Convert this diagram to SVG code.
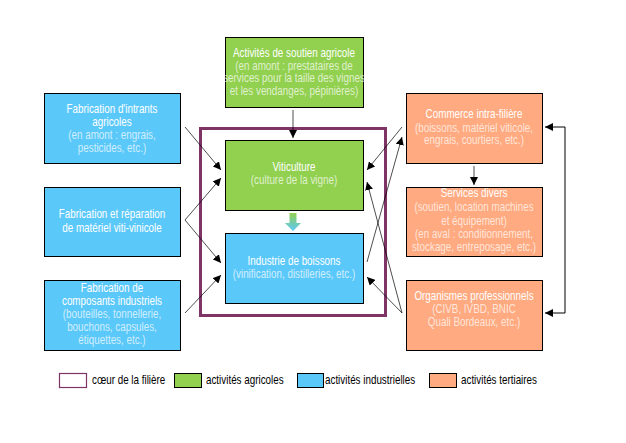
<svg xmlns="http://www.w3.org/2000/svg" width="626" height="443" viewBox="0 0 626 443">
<defs>
<marker id="ah" viewBox="0 0 10 10" refX="10" refY="5" markerWidth="8" markerHeight="8" markerUnits="userSpaceOnUse" orient="auto-start-reverse">
<path d="M0,0 L10,5 L0,10 Z" fill="#000"/>
</marker>
<linearGradient id="gr" x1="0" y1="0" x2="0" y2="1">
<stop offset="0" stop-color="#92d050"/>
<stop offset="1" stop-color="#5bc8fa"/>
</linearGradient>
</defs>
<style>
.b{stroke:#000;stroke-width:1}
.g{fill:#92d050}
.bl{fill:#5bc8fa}
.o{fill:#ffaa80}
text{font-family:"Liberation Sans",Arial,sans-serif;font-size:12px;text-anchor:middle;fill:#fff}
.s{fill-opacity:0.72}
.lg{text-anchor:start;fill:#000}
.c{fill:none;stroke:#000;stroke-width:0.7;marker-end:url(#ah)}
</style>
<rect width="626" height="443" fill="#fff"/>

<g id="frame">
<rect x="200.5" y="128.5" width="185" height="187" fill="none" stroke="#7f3466" stroke-width="3"/>
</g>

<g id="n-intrants">
<rect class="b bl" x="44.5" y="93.5" width="136" height="70"/>
<g transform="matrix(0.82 0 0 1 20.16 0)">
<text x="112" y="113">Fabrication d'intrants</text>
<text x="112" y="126">agricoles</text>
<text class="s" x="112" y="139">(en amont : engrais,</text>
<text class="s" x="112" y="152">pesticides, etc.)</text>
</g>
</g>

<g id="n-materiel">
<rect class="b bl" x="44.5" y="187.5" width="136" height="69"/>
<g transform="matrix(0.82 0 0 1 20.16 0)">
<text x="112" y="218">Fabrication et réparation</text>
<text x="112" y="232">de matériel viti-vinicole</text>
</g>
</g>

<g id="n-composants">
<rect class="b bl" x="44.5" y="280.5" width="136" height="70"/>
<g transform="matrix(0.82 0 0 1 20.16 0)">
<text x="112" y="292">Fabrication de</text>
<text x="112" y="305">composants industriels</text>
<text class="s" x="112" y="318">(bouteilles, tonnellerie,</text>
<text class="s" x="112" y="331">bouchons, capsules,</text>
<text class="s" x="112" y="344">étiquettes, etc.)</text>
</g>
</g>

<g id="n-soutien">
<rect class="b g" x="225.5" y="37.5" width="138" height="70"/>
<g transform="matrix(0.82 0 0 1 52.92 0)">
<text x="294" y="57">Activités de soutien agricole</text>
<text class="s" x="294" y="70">(en amont : prestataires de</text>
<text class="s" x="294" y="82">services pour la taille des vignes</text>
<text class="s" x="294" y="95">et les vendanges, pépinières)</text>
</g>
</g>

<g id="n-viticulture">
<rect class="b g" x="225.5" y="140.5" width="138" height="70"/>
<g transform="matrix(0.82 0 0 1 52.92 0)">
<text x="294" y="171">Viticulture</text>
<text class="s" x="294" y="184">(culture de la vigne)</text>
</g>
</g>

<g id="n-industrie">
<rect class="b bl" x="225.5" y="233.5" width="138" height="70"/>
<g transform="matrix(0.82 0 0 1 52.92 0)">
<text x="294" y="265">Industrie de boissons</text>
<text class="s" x="294" y="278">(vinification, distilleries, etc.)</text>
</g>
</g>

<g id="n-commerce">
<rect class="b o" x="406.5" y="93.5" width="136" height="70"/>
<g transform="matrix(0.82 0 0 1 85.32 0)">
<text x="474" y="118">Commerce intra-filière</text>
<text class="s" x="474" y="132">(boissons, matériel viticole,</text>
<text class="s" x="474" y="144">engrais, courtiers, etc.)</text>
</g>
</g>

<g id="n-services">
<rect class="b o" x="406.5" y="187.5" width="136" height="69"/>
<g transform="matrix(0.82 0 0 1 85.32 0)">
<text x="474" y="197">Services divers</text>
<text class="s" x="474" y="211">(soutien, location machines</text>
<text class="s" x="474" y="225">et équipement)</text>
<text class="s" x="474" y="238">(en aval : conditionnement,</text>
<text class="s" x="474" y="251">stockage, entreposage, etc.)</text>
</g>
</g>

<g id="n-organismes">
<rect class="b o" x="406.5" y="280.5" width="136" height="70"/>
<g transform="matrix(0.82 0 0 1 85.32 0)">
<text x="474" y="300">Organismes professionnels</text>
<text class="s" x="474" y="313">(CIVB, IVBD, BNIC</text>
<text class="s" x="474" y="326">Quali Bordeaux, etc.)</text>
</g>
</g>

<g id="connectors">
<path class="c" d="M293,110 V138"/>
<path d="M289.5,213 H296.5 V223 H301 L293,231 L285,223 H289.5 Z" fill="url(#gr)"/>
<path class="c" d="M185,127 L221,170"/>
<path class="c" d="M185,220 L221,178"/>
<path class="c" d="M185,220 L221,263"/>
<path class="c" d="M185,313 L221,275"/>
<path class="c" d="M402,127 L367,170"/>
<path class="c" d="M367,262 L402,137"/>
<path class="c" d="M402,313 L367,182"/>
<path class="c" d="M402,313 L367,277"/>
<path class="c" d="M474,166 V185"/>
<path class="c" d="M545,127 H565 V313 H545" style="marker-start:url(#ah);stroke-width:1"/>
</g>

<g id="legend">
<rect x="59.5" y="373.5" width="27" height="14" fill="#fff" stroke="#7f3466" stroke-width="1.2"/>
<text class="lg" x="92" y="384" transform="matrix(0.82 0 0 1 16.56 0)">cœur de la filière</text>
<rect class="b g" x="174.5" y="373.5" width="27" height="14"/>
<text class="lg" x="206" y="384" transform="matrix(0.82 0 0 1 37.08 0)">activités agricoles</text>
<rect class="b bl" x="297.5" y="373.5" width="26" height="14"/>
<text class="lg" x="325" y="384" transform="matrix(0.82 0 0 1 58.5 0)">activités industrielles</text>
<rect class="b o" x="429.5" y="373.5" width="27" height="14"/>
<text class="lg" x="461" y="384" transform="matrix(0.82 0 0 1 82.98 0)">activités tertiaires</text>
</g>
</svg>
